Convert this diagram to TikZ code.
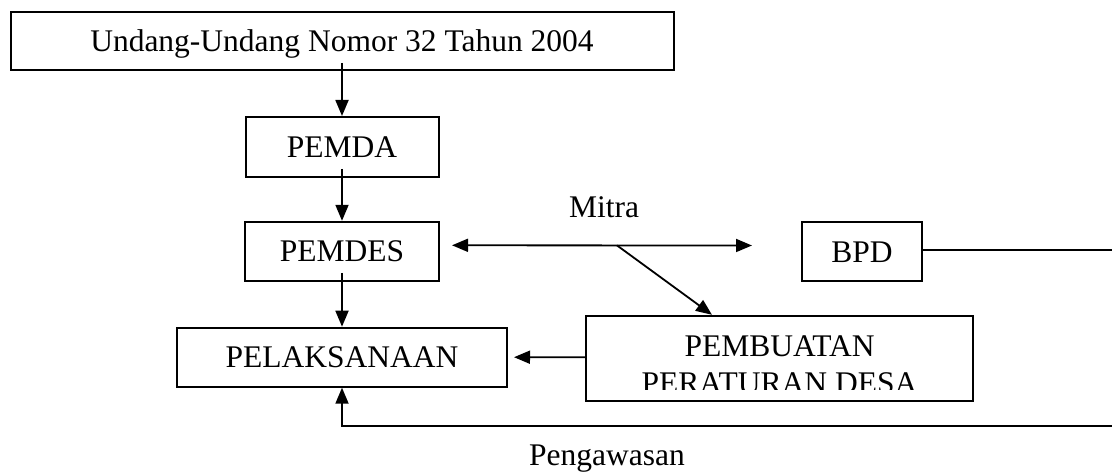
\documentclass[tikz,border=0pt]{standalone}
\usepackage{fontspec}
\setmainfont{Liberation Serif}
\usetikzlibrary{arrows.meta}
\newcommand\diagfont{\fontsize{31.5pt}{36pt}\selectfont}
\begin{document}
\begin{tikzpicture}[x=1pt,y=-1pt,
  box/.style={draw, line width=2pt, inner sep=0pt, text height=21pt, text depth=0pt, font=\diagfont},
  arr/.style={-{Triangle[length=16pt,width=13pt]}, line width=1.8pt},
  arrtwo/.style={{Triangle[length=16pt,width=13pt]}-{Triangle[length=16pt,width=13pt]}, line width=1.8pt},
  lbl/.style={font=\diagfont, inner sep=0pt, anchor=base}]
\useasboundingbox (0,0) rectangle (1112,476);
\clip (0,0) rectangle (1112,476);

\node[box, minimum width=663pt, minimum height=58pt] (uu) at (342,41) {Undang-Undang Nomor 32 Tahun 2004};
\node[box, minimum width=193pt, minimum height=60pt] (pemda) at (342,147) {PEMDA};
\node[box, minimum width=194pt, minimum height=59pt] (pemdes) at (342,251.3) {PEMDES};
\node[box, minimum width=120pt, minimum height=59pt] (bpd) at (862,251.5) {BPD};
\node[box, minimum width=330pt, minimum height=59pt] (pel) at (342,357.2) {PELAKSANAAN};
\node[box, minimum width=387pt, minimum height=85pt] (pb) at (779.5,358.3) {};

\node[lbl] (pbA) at (779.5,356) {PEMBUATAN};
\begin{scope}
  \clip (586,316) rectangle (973,389.5);
  \node[lbl] (pbB) at (779.5,393) {PERATURAN DESA};
\end{scope}

\node[lbl] (mitra) at (604,218) {Mitra};
\node[lbl] (peng) at (607,465) {Pengawasan};

\draw[arr] ([yshift=8pt]uu.south) -- (pemda.north);
\draw[arr] ([yshift=9pt]pemda.south) -- (pemdes.north);
\draw[arr] ([yshift=9pt]pemdes.south) -- (pel.north);

\coordinate (mL) at ([xshift=12pt,yshift=6pt]pemdes.east);
\coordinate (mR) at ([xshift=-49pt,yshift=6pt]bpd.west);
\draw[arrtwo] (mL) -- coordinate[pos=0.55] (mJ) (mR);
\draw[arr] (mJ) -- ([xshift=-67.5pt]pb.north);

\draw[arr] ([yshift=1pt]pb.west) -- ([xshift=6pt]pel.east);

\coordinate (fbA) at (1125,250);
\coordinate (fbB) at (1125,426);
\draw[arr] ([yshift=1.5pt]bpd.east) -- (fbA) -- (fbB) -| (pel.south);
\end{tikzpicture}
\end{document}
